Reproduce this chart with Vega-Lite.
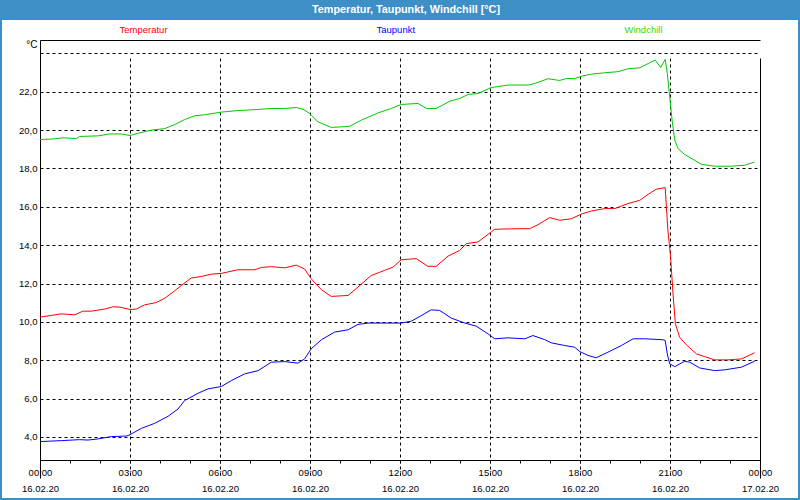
{
  "$schema": "https://vega.github.io/schema/vega-lite/v6.json",
  "width": 796,
  "height": 478,
  "autosize": {"type": "none"},
  "padding": {"top": 20, "left": 2, "right": 2, "bottom": 2},
  "background": "#3d8fc6",
  "view": {"fill": "#ffffff", "stroke": null},
  "title": {
    "text": "Temperatur, Taupunkt, Windchill [°C]",
    "color": "#ffffff",
    "font": "Liberation Sans",
    "fontSize": 10.8,
    "fontWeight": "bold",
    "anchor": "middle",
    "dx": 6,
    "offset": 5
  },
  "datasets": {
    "messwerte": [
      {"h": 0, "s": "Temperatur", "v": 10.25}, {"h": 0.38, "s": "Temperatur", "v": 10.34}, {"h": 0.71, "s": "Temperatur", "v": 10.42},
      {"h": 1.16, "s": "Temperatur", "v": 10.37}, {"h": 1.43, "s": "Temperatur", "v": 10.56}, {"h": 1.71, "s": "Temperatur", "v": 10.56},
      {"h": 2.16, "s": "Temperatur", "v": 10.67}, {"h": 2.43, "s": "Temperatur", "v": 10.79}, {"h": 2.66, "s": "Temperatur", "v": 10.77},
      {"h": 3.0, "s": "Temperatur", "v": 10.65}, {"h": 3.21, "s": "Temperatur", "v": 10.67}, {"h": 3.49, "s": "Temperatur", "v": 10.89},
      {"h": 3.88, "s": "Temperatur", "v": 11.01}, {"h": 4.16, "s": "Temperatur", "v": 11.24}, {"h": 4.43, "s": "Temperatur", "v": 11.55},
      {"h": 4.71, "s": "Temperatur", "v": 11.9}, {"h": 5.04, "s": "Temperatur", "v": 12.29}, {"h": 5.38, "s": "Temperatur", "v": 12.37},
      {"h": 5.71, "s": "Temperatur", "v": 12.49}, {"h": 6.04, "s": "Temperatur", "v": 12.53}, {"h": 6.6, "s": "Temperatur", "v": 12.72},
      {"h": 7.16, "s": "Temperatur", "v": 12.72}, {"h": 7.38, "s": "Temperatur", "v": 12.84}, {"h": 7.71, "s": "Temperatur", "v": 12.88},
      {"h": 8.16, "s": "Temperatur", "v": 12.82}, {"h": 8.54, "s": "Temperatur", "v": 12.96}, {"h": 8.82, "s": "Temperatur", "v": 12.76},
      {"h": 9.04, "s": "Temperatur", "v": 12.25}, {"h": 9.38, "s": "Temperatur", "v": 11.68}, {"h": 9.71, "s": "Temperatur", "v": 11.33},
      {"h": 10.27, "s": "Temperatur", "v": 11.38}, {"h": 10.6, "s": "Temperatur", "v": 11.82}, {"h": 11.04, "s": "Temperatur", "v": 12.42},
      {"h": 11.49, "s": "Temperatur", "v": 12.69}, {"h": 11.77, "s": "Temperatur", "v": 12.86}, {"h": 12.04, "s": "Temperatur", "v": 13.24},
      {"h": 12.54, "s": "Temperatur", "v": 13.3}, {"h": 12.93, "s": "Temperatur", "v": 12.9}, {"h": 13.21, "s": "Temperatur", "v": 12.9},
      {"h": 13.6, "s": "Temperatur", "v": 13.43}, {"h": 13.99, "s": "Temperatur", "v": 13.73}, {"h": 14.21, "s": "Temperatur", "v": 14.08},
      {"h": 14.6, "s": "Temperatur", "v": 14.17}, {"h": 15.16, "s": "Temperatur", "v": 14.83}, {"h": 15.38, "s": "Temperatur", "v": 14.84},
      {"h": 15.93, "s": "Temperatur", "v": 14.86}, {"h": 16.32, "s": "Temperatur", "v": 14.86}, {"h": 16.6, "s": "Temperatur", "v": 15.07},
      {"h": 16.99, "s": "Temperatur", "v": 15.44}, {"h": 17.32, "s": "Temperatur", "v": 15.3}, {"h": 17.71, "s": "Temperatur", "v": 15.38},
      {"h": 18.07, "s": "Temperatur", "v": 15.64}, {"h": 18.38, "s": "Temperatur", "v": 15.78}, {"h": 18.82, "s": "Temperatur", "v": 15.91},
      {"h": 19.16, "s": "Temperatur", "v": 15.91}, {"h": 19.6, "s": "Temperatur", "v": 16.17}, {"h": 19.99, "s": "Temperatur", "v": 16.34},
      {"h": 20.27, "s": "Temperatur", "v": 16.65}, {"h": 20.54, "s": "Temperatur", "v": 16.92}, {"h": 20.84, "s": "Temperatur", "v": 17.0},
      {"h": 20.88, "s": "Temperatur", "v": 15.99}, {"h": 20.93, "s": "Temperatur", "v": 14.78}, {"h": 21.02, "s": "Temperatur", "v": 13.38},
      {"h": 21.1, "s": "Temperatur", "v": 11.47}, {"h": 21.18, "s": "Temperatur", "v": 9.9}, {"h": 21.32, "s": "Temperatur", "v": 9.2},
      {"h": 21.54, "s": "Temperatur", "v": 8.82}, {"h": 21.88, "s": "Temperatur", "v": 8.33}, {"h": 22.16, "s": "Temperatur", "v": 8.19},
      {"h": 22.49, "s": "Temperatur", "v": 8.02}, {"h": 22.93, "s": "Temperatur", "v": 8.02}, {"h": 23.38, "s": "Temperatur", "v": 8.07},
      {"h": 23.82, "s": "Temperatur", "v": 8.39},
      {"h": 0, "s": "Taupunkt", "v": 3.76}, {"h": 0.71, "s": "Taupunkt", "v": 3.81}, {"h": 1.32, "s": "Taupunkt", "v": 3.86},
      {"h": 1.6, "s": "Taupunkt", "v": 3.84}, {"h": 1.93, "s": "Taupunkt", "v": 3.9}, {"h": 2.38, "s": "Taupunkt", "v": 4.02},
      {"h": 2.88, "s": "Taupunkt", "v": 4.05}, {"h": 3.0, "s": "Taupunkt", "v": 4.12}, {"h": 3.38, "s": "Taupunkt", "v": 4.45},
      {"h": 3.82, "s": "Taupunkt", "v": 4.71}, {"h": 4.27, "s": "Taupunkt", "v": 5.08}, {"h": 4.6, "s": "Taupunkt", "v": 5.46},
      {"h": 4.82, "s": "Taupunkt", "v": 5.9}, {"h": 5.27, "s": "Taupunkt", "v": 6.28}, {"h": 5.6, "s": "Taupunkt", "v": 6.51},
      {"h": 6.04, "s": "Taupunkt", "v": 6.63}, {"h": 6.38, "s": "Taupunkt", "v": 6.94}, {"h": 6.82, "s": "Taupunkt", "v": 7.29},
      {"h": 7.27, "s": "Taupunkt", "v": 7.46}, {"h": 7.71, "s": "Taupunkt", "v": 7.9}, {"h": 8.16, "s": "Taupunkt", "v": 7.93},
      {"h": 8.6, "s": "Taupunkt", "v": 7.85}, {"h": 8.82, "s": "Taupunkt", "v": 8.07}, {"h": 9.04, "s": "Taupunkt", "v": 8.6},
      {"h": 9.38, "s": "Taupunkt", "v": 9.07}, {"h": 9.82, "s": "Taupunkt", "v": 9.47}, {"h": 10.27, "s": "Taupunkt", "v": 9.59},
      {"h": 10.6, "s": "Taupunkt", "v": 9.87}, {"h": 10.93, "s": "Taupunkt", "v": 9.94}, {"h": 12.04, "s": "Taupunkt", "v": 9.94},
      {"h": 12.38, "s": "Taupunkt", "v": 10.04}, {"h": 12.71, "s": "Taupunkt", "v": 10.33}, {"h": 13.04, "s": "Taupunkt", "v": 10.63},
      {"h": 13.32, "s": "Taupunkt", "v": 10.6}, {"h": 13.71, "s": "Taupunkt", "v": 10.2}, {"h": 14.16, "s": "Taupunkt", "v": 9.94},
      {"h": 14.54, "s": "Taupunkt", "v": 9.78}, {"h": 14.93, "s": "Taupunkt", "v": 9.38}, {"h": 15.16, "s": "Taupunkt", "v": 9.12},
      {"h": 15.6, "s": "Taupunkt", "v": 9.17}, {"h": 16.16, "s": "Taupunkt", "v": 9.12}, {"h": 16.43, "s": "Taupunkt", "v": 9.29},
      {"h": 16.82, "s": "Taupunkt", "v": 9.08}, {"h": 17.04, "s": "Taupunkt", "v": 8.91}, {"h": 17.49, "s": "Taupunkt", "v": 8.77},
      {"h": 17.82, "s": "Taupunkt", "v": 8.68}, {"h": 18.0, "s": "Taupunkt", "v": 8.45}, {"h": 18.27, "s": "Taupunkt", "v": 8.25},
      {"h": 18.54, "s": "Taupunkt", "v": 8.13}, {"h": 18.93, "s": "Taupunkt", "v": 8.42}, {"h": 19.38, "s": "Taupunkt", "v": 8.77},
      {"h": 19.77, "s": "Taupunkt", "v": 9.12}, {"h": 20.16, "s": "Taupunkt", "v": 9.12}, {"h": 20.77, "s": "Taupunkt", "v": 9.07},
      {"h": 20.84, "s": "Taupunkt", "v": 9.03}, {"h": 20.91, "s": "Taupunkt", "v": 8.33}, {"h": 20.99, "s": "Taupunkt", "v": 7.81},
      {"h": 21.16, "s": "Taupunkt", "v": 7.67}, {"h": 21.49, "s": "Taupunkt", "v": 7.95}, {"h": 21.66, "s": "Taupunkt", "v": 7.9},
      {"h": 21.99, "s": "Taupunkt", "v": 7.6}, {"h": 22.49, "s": "Taupunkt", "v": 7.46}, {"h": 22.82, "s": "Taupunkt", "v": 7.5},
      {"h": 23.38, "s": "Taupunkt", "v": 7.64}, {"h": 23.82, "s": "Taupunkt", "v": 7.95},
      {"h": 0, "s": "Windchill", "v": 19.51}, {"h": 0.43, "s": "Windchill", "v": 19.54}, {"h": 0.77, "s": "Windchill", "v": 19.6},
      {"h": 1.21, "s": "Windchill", "v": 19.56}, {"h": 1.32, "s": "Windchill", "v": 19.67}, {"h": 1.93, "s": "Windchill", "v": 19.7},
      {"h": 2.32, "s": "Windchill", "v": 19.8}, {"h": 2.71, "s": "Windchill", "v": 19.8}, {"h": 3.0, "s": "Windchill", "v": 19.72},
      {"h": 3.27, "s": "Windchill", "v": 19.84}, {"h": 3.71, "s": "Windchill", "v": 20.0}, {"h": 4.16, "s": "Windchill", "v": 20.08},
      {"h": 4.49, "s": "Windchill", "v": 20.29}, {"h": 4.82, "s": "Windchill", "v": 20.55}, {"h": 5.16, "s": "Windchill", "v": 20.75},
      {"h": 5.49, "s": "Windchill", "v": 20.8}, {"h": 6.04, "s": "Windchill", "v": 20.94}, {"h": 6.6, "s": "Windchill", "v": 21.02},
      {"h": 7.27, "s": "Windchill", "v": 21.08}, {"h": 7.71, "s": "Windchill", "v": 21.13}, {"h": 8.16, "s": "Windchill", "v": 21.13},
      {"h": 8.54, "s": "Windchill", "v": 21.18}, {"h": 8.77, "s": "Windchill", "v": 21.09}, {"h": 8.99, "s": "Windchill", "v": 20.87},
      {"h": 9.27, "s": "Windchill", "v": 20.43}, {"h": 9.71, "s": "Windchill", "v": 20.14}, {"h": 10.32, "s": "Windchill", "v": 20.2},
      {"h": 10.71, "s": "Windchill", "v": 20.52}, {"h": 11.27, "s": "Windchill", "v": 20.9}, {"h": 11.71, "s": "Windchill", "v": 21.13},
      {"h": 12.04, "s": "Windchill", "v": 21.34}, {"h": 12.6, "s": "Windchill", "v": 21.39}, {"h": 12.88, "s": "Windchill", "v": 21.13},
      {"h": 13.21, "s": "Windchill", "v": 21.13}, {"h": 13.66, "s": "Windchill", "v": 21.51}, {"h": 13.99, "s": "Windchill", "v": 21.65},
      {"h": 14.27, "s": "Windchill", "v": 21.86}, {"h": 14.6, "s": "Windchill", "v": 21.91}, {"h": 15.04, "s": "Windchill", "v": 22.22},
      {"h": 15.6, "s": "Windchill", "v": 22.35}, {"h": 16.27, "s": "Windchill", "v": 22.35}, {"h": 16.49, "s": "Windchill", "v": 22.43},
      {"h": 16.93, "s": "Windchill", "v": 22.68}, {"h": 17.32, "s": "Windchill", "v": 22.59}, {"h": 17.54, "s": "Windchill", "v": 22.69},
      {"h": 17.82, "s": "Windchill", "v": 22.69}, {"h": 18.07, "s": "Windchill", "v": 22.82}, {"h": 18.38, "s": "Windchill", "v": 22.92},
      {"h": 18.82, "s": "Windchill", "v": 22.99}, {"h": 19.27, "s": "Windchill", "v": 23.05}, {"h": 19.6, "s": "Windchill", "v": 23.2},
      {"h": 19.99, "s": "Windchill", "v": 23.25}, {"h": 20.32, "s": "Windchill", "v": 23.51}, {"h": 20.51, "s": "Windchill", "v": 23.65},
      {"h": 20.69, "s": "Windchill", "v": 23.27}, {"h": 20.84, "s": "Windchill", "v": 23.69}, {"h": 20.91, "s": "Windchill", "v": 22.96},
      {"h": 20.99, "s": "Windchill", "v": 21.74}, {"h": 21.07, "s": "Windchill", "v": 20.52}, {"h": 21.16, "s": "Windchill", "v": 19.47},
      {"h": 21.27, "s": "Windchill", "v": 19.04}, {"h": 21.49, "s": "Windchill", "v": 18.73}, {"h": 21.82, "s": "Windchill", "v": 18.43},
      {"h": 22.04, "s": "Windchill", "v": 18.22}, {"h": 22.49, "s": "Windchill", "v": 18.12}, {"h": 23.04, "s": "Windchill", "v": 18.12},
      {"h": 23.49, "s": "Windchill", "v": 18.17}, {"h": 23.82, "s": "Windchill", "v": 18.34}
    ]
  },
  "data": {"name": "messwerte"},
  "mark": {"type": "line", "strokeWidth": 1},
  "encoding": {
    "x": {
      "field": "h",
      "type": "quantitative",
      "scale": {"domain": [0, 24], "range": [38, 758], "nice": false, "zero": false},
      "axis": {
        "orient": "bottom",
        "offset": -38,
        "title": null,
        "values": [0, 1, 2, 3, 4, 5, 6, 7, 8, 9, 10, 11, 12, 13, 14, 15, 16, 17, 18, 19, 20, 21, 22, 23, 24],
        "tickSize": 3,
        "tickColor": "#000000",
        "domainColor": "#000000",
        "labelExpr": "datum.value % 3 == 0 ? [(datum.value % 24 < 10 ? '0' : '') + (datum.value % 24) + ':00', datum.value >= 24 ? '17.02.20' : '16.02.20'] : ''",
        "labelLineHeight": 16,
        "labelPadding": 4,
        "labelBaseline": "top",
        "labelFont": "Liberation Sans",
        "labelFontSize": 9.5,
        "labelColor": "#000000",
        "labelOverlap": false,
        "labelFlush": false,
        "grid": true,
        "gridColor": "#000000",
        "gridOpacity": {"condition": {"test": "datum.value % 3 == 0", "value": 1}, "value": 0},
        "gridDash": {"condition": {"test": "datum.value <= 0 || datum.value >= 24", "value": []}, "value": [3, 3]}
      }
    },
    "y": {
      "field": "v",
      "type": "quantitative",
      "scale": {"domain": [2.8, 24.7], "range": [440, 20], "nice": false, "zero": false},
      "axis": {
        "offset": -38,
        "values": [2.8, 4, 6, 8, 10, 12, 14, 16, 18, 20, 22, 24, 24.7],
        "ticks": false,
        "domainColor": "#000000",
        "labelExpr": "datum.value < 3 || datum.value > 23 ? '' : replace(format(datum.value, '.1f'), '.', ',')",
        "labelPadding": 3,
        "labelFont": "Liberation Sans",
        "labelFontSize": 9.5,
        "labelColor": "#000000",
        "labelOverlap": false,
        "labelFlush": false,
        "grid": true,
        "gridColor": "#000000",
        "gridOpacity": 1,
        "gridDash": {"condition": {"test": "datum.value < 3 || datum.value > 24.5", "value": []}, "value": [3, 3]},
        "title": "°C",
        "titleAngle": 0,
        "titleX": -3,
        "titleY": 24,
        "titleAlign": "right",
        "titleBaseline": "middle",
        "titleFont": "Liberation Sans",
        "titleFontSize": 10,
        "titleFontWeight": "normal",
        "titleColor": "#000000"
      }
    },
    "color": {
      "field": "s",
      "type": "nominal",
      "scale": {
        "domain": ["Temperatur", "Taupunkt", "Windchill"],
        "range": ["#ff0000", "#0000ff", "#00c800"]
      },
      "legend": {
        "orient": "none",
        "legendX": 108,
        "legendY": 5,
        "direction": "horizontal",
        "title": null,
        "padding": 0,
        "symbolSize": 0,
        "symbolOpacity": 0,
        "symbolStrokeWidth": 0,
        "labelOffset": 0,
        "columnPadding": 199,
        "gridAlign": "none",
        "labelFont": "Liberation Sans",
        "labelFontSize": 9.5,
        "encode": {
          "labels": {
            "update": {
              "fill": {"signal": "datum.value == 'Windchill' ? '#33dd00' : scale('color', datum.value)"}
            }
          }
        }
      }
    }
  }
}
